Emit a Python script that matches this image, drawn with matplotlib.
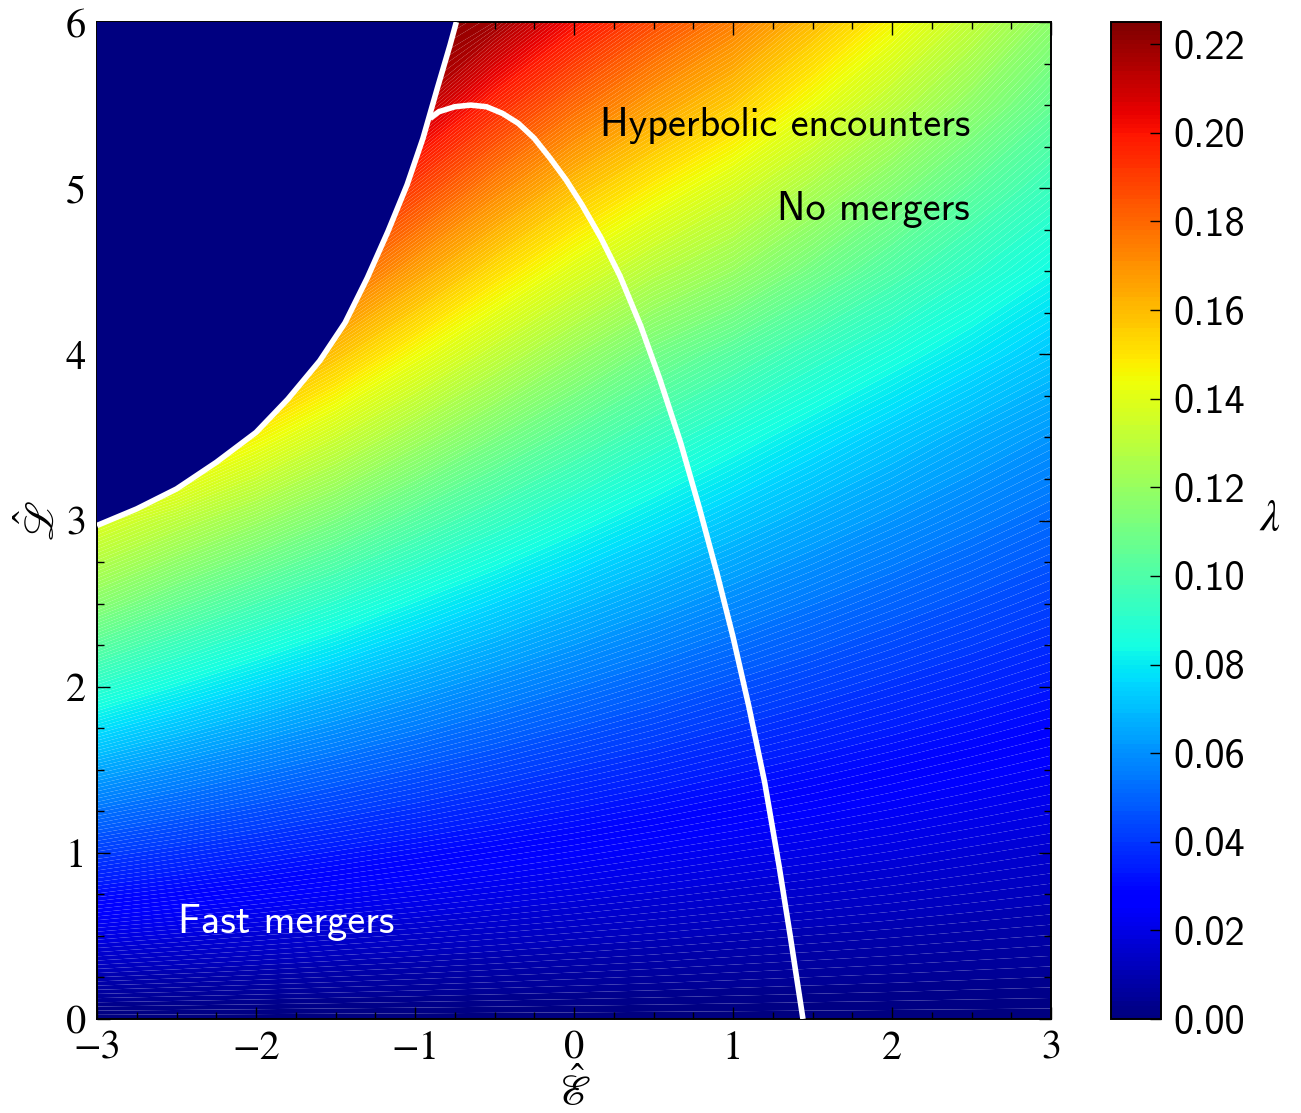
import matplotlib
matplotlib.use("Agg")
import matplotlib.pyplot as plt
from matplotlib.ticker import MultipleLocator, FormatStrFormatter
import numpy as np

plt.rcParams.update({
    "mathtext.fontset": "stix",
    "font.family": "STIXGeneral",
    "xtick.direction": "in",
    "ytick.direction": "in",
    "xtick.top": True,
    "ytick.right": True,
    "xtick.major.size": 9,
    "ytick.major.size": 9,
    "xtick.minor.size": 5,
    "ytick.minor.size": 5,
    "axes.linewidth": 1.4,
})

# ── data ─────────────────────────────────────────────────────────────────────
E_GRID = [-3.0, -2.5, -2.0, -1.5, -1.0, -0.5, 0.0, 0.5, 1.0, 1.5, 2.0, 2.5, 3.0]
L_GRID = [0.0, 0.5, 1.0, 1.5, 2.0, 2.5, 3.0, 3.5, 4.0, 4.5, 5.0, 5.5, 6.0]

# lambda, one row per L value, columns follow E_GRID
LAMBDA = [
    [0.0000, 0.0000, 0.0000, 0.0000, 0.0000, 0.0000, 0.0000, 0.0000, 0.0000, 0.0000, 0.0000, 0.0000, 0.0000],
    [0.0199, 0.0184, 0.0170, 0.0157, 0.0146, 0.0135, 0.0125, 0.0116, 0.0107, 0.0099, 0.0092, 0.0085, 0.0079],
    [0.0416, 0.0384, 0.0354, 0.0326, 0.0301, 0.0278, 0.0257, 0.0237, 0.0219, 0.0203, 0.0188, 0.0173, 0.0160],
    [0.0651, 0.0599, 0.0551, 0.0507, 0.0467, 0.0430, 0.0396, 0.0366, 0.0337, 0.0311, 0.0287, 0.0265, 0.0245],
    [0.0904, 0.0829, 0.0761, 0.0699, 0.0642, 0.0590, 0.0543, 0.0500, 0.0460, 0.0424, 0.0391, 0.0361, 0.0333],
    [0.1160, 0.1065, 0.0980, 0.0902, 0.0827, 0.0759, 0.0697, 0.0641, 0.0589, 0.0542, 0.0499, 0.0460, 0.0424],
    [0.1390, 0.1300, 0.1210, 0.1117, 0.1022, 0.0937, 0.0859, 0.0788, 0.0723, 0.0664, 0.0611, 0.0562, 0.0517],
    [0.1720, 0.1590, 0.1460, 0.1343, 0.1227, 0.1122, 0.1027, 0.0941, 0.0863, 0.0792, 0.0727, 0.0667, 0.0614],
    [0.2096, 0.1906, 0.1735, 0.1581, 0.1442, 0.1317, 0.1203, 0.1101, 0.1020, 0.0935, 0.0860, 0.0790, 0.0725],
    [0.2439, 0.2214, 0.2012, 0.1830, 0.1667, 0.1520, 0.1395, 0.1285, 0.1200, 0.1100, 0.1005, 0.0915, 0.0835],
    [0.2800, 0.2537, 0.2302, 0.2091, 0.1901, 0.1735, 0.1590, 0.1475, 0.1370, 0.1255, 0.1145, 0.1040, 0.0944],
    [0.3180, 0.2876, 0.2606, 0.2363, 0.2146, 0.1960, 0.1800, 0.1670, 0.1560, 0.1430, 0.1300, 0.1175, 0.1060],
    [0.3580, 0.3231, 0.2922, 0.2647, 0.2400, 0.2190, 0.2020, 0.1870, 0.1745, 0.1600, 0.1460, 0.1315, 0.1175],
]

# edge of the excluded (dark) region
EDGE_E = [-3.0, -2.75, -2.5, -2.25, -2.0, -1.8, -1.6, -1.44, -1.3, -1.17, -1.05, -0.95, -0.86, -0.78, -0.74]
EDGE_L = [2.97, 3.07, 3.19, 3.35, 3.53, 3.73, 3.96, 4.19, 4.46, 4.74, 5.02, 5.30, 5.60, 5.86, 6.00]

# merger boundary
MERGE_E = [-0.905, -0.85, -0.75, -0.65, -0.55, -0.45, -0.35, -0.25, -0.15, -0.05, 0.05, 0.17,
           0.29, 0.42, 0.54, 0.67, 0.79, 0.90, 1.00, 1.10, 1.20, 1.29, 1.36, 1.44]
MERGE_L = [5.42, 5.46, 5.49, 5.50, 5.49, 5.45, 5.39, 5.30, 5.18, 5.05, 4.90, 4.70,
           4.47, 4.17, 3.85, 3.47, 3.07, 2.68, 2.30, 1.88, 1.42, 0.92, 0.50, 0.00]

LAM_MAX = 0.225
CB_TICKS = [0.00, 0.02, 0.04, 0.06, 0.08, 0.10, 0.12, 0.14, 0.16, 0.18, 0.20, 0.22]

# ── figure ───────────────────────────────────────────────────────────────────
fig = plt.figure(figsize=(13.01, 11.13), dpi=100)
ax = fig.add_axes([97 / 1301, 94 / 1113, 954 / 1301, 997 / 1113])
cax = fig.add_axes([1111 / 1301, 94 / 1113, 50 / 1301, 997 / 1113])

E, L = np.meshgrid(E_GRID, L_GRID)
lam = np.clip(np.array(LAMBDA), 0, LAM_MAX - 1e-6)
levels = np.linspace(0, LAM_MAX, 226)
cs = ax.contourf(E, L, lam, levels=levels, cmap="jet", antialiased=True)

# excluded region
navy = plt.get_cmap("jet")(0.0)
ax.fill(EDGE_E + [-3.0], EDGE_L + [6.0], color=navy, zorder=3, lw=0)
ax.plot(EDGE_E, EDGE_L, color="white", lw=4.0, zorder=4, solid_capstyle="butt",
        solid_joinstyle="round")
ax.plot(MERGE_E, MERGE_L, color="white", lw=4.0, zorder=4, solid_capstyle="butt",
        solid_joinstyle="round")

ax.set_xlim(-3, 3)
ax.set_ylim(0, 6)
ax.xaxis.set_minor_locator(MultipleLocator(0.25))
ax.yaxis.set_minor_locator(MultipleLocator(0.25))
ax.tick_params(which="both", width=1.0, labelsize=29, pad=8)

ax.set_xlabel(r"$\hat{\mathscr{E}}$", fontsize=30, labelpad=0)
ax.set_ylabel(r"$\hat{\mathscr{L}}$", fontsize=30, labelpad=2)

txt = dict(family="cmss10", fontsize=29)
ax.text(2.49, 5.38, "Hyperbolic encounters", ha="right", va="center", color="black", zorder=5, **txt)
ax.text(2.49, 4.87, "No mergers", ha="right", va="center", color="black", zorder=5, **txt)
ax.text(-2.49, 0.58, "Fast mergers", ha="left", va="center", color="white", zorder=5, **txt)

cb = fig.colorbar(cs, cax=cax, ticks=CB_TICKS)
cb.outline.set_linewidth(1.4)
cax.yaxis.set_major_formatter(FormatStrFormatter("%.2f"))
cax.tick_params(direction="in", length=8, width=1.0, labelsize=29, pad=9, right=True, left=False)
for t in cax.get_yticklabels():
    t.set_family("cmss10")
cax.set_ylabel(r"$\lambda$", rotation=0, fontsize=32, labelpad=18, va="center")

fig.savefig("out.png", dpi=100)
